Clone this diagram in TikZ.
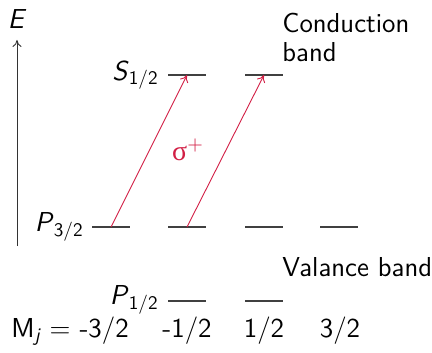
\documentclass[tikz,border=0pt]{standalone}
\usepackage{amsmath}
\usepackage{fontspec}
\newfontfamily\greekserif{Liberation Serif}
\usetikzlibrary{arrows.meta}
\newcommand\lvlname[2]{\textit{#1}$_{\textsf{#2}}$}
\definecolor{trred}{HTML}{D21F45}
\definecolor{lvlgray}{HTML}{404040}
\begin{document}
\begin{tikzpicture}[x=0.5pt,y=-0.5pt,
  txt/.style={font=\sffamily\fontsize{13.7}{16}\selectfont,inner sep=0pt},
  lvl/.style={draw=lvlgray,line width=0.6pt},
  trans/.style={draw=trred,line width=0.45pt,-{To[length=3.5pt,width=4.5pt]}},
  axis/.style={draw=black!80,line width=0.45pt,-{To[length=3.5pt,width=4.5pt]}}]
\useasboundingbox (0,0) rectangle (432,352);
% axis
\coordinate (axb) at (17,246);
\coordinate (axt) at (17,40);
\draw[axis] (axb) -- (axt);
\node[txt] (E) at (17,19) {\textit{E}};
% level centres
\coordinate (s1) at (187,75);
\coordinate (s2) at (264,75);
\coordinate (p1) at (111,227);
\coordinate (p2) at (187,227);
\coordinate (p3) at (264,227);
\coordinate (p4) at (339,227);
\coordinate (q2) at (187,301);
\coordinate (q3) at (264,301);
\foreach \c in {s1,s2,p1,p2,p3,p4,q2,q3}
  \draw[lvl] ([xshift=-19*0.5pt]\c) -- ([xshift=19*0.5pt]\c);
% labels
\node[txt,anchor=east] (S) at (159,75) {\lvlname{S}{1/2}};
\node[txt,anchor=east] (P3) at (84,227) {\lvlname{P}{3/2}};
\node[txt,anchor=east] (P1) at (159,300) {\lvlname{P}{1/2}};
\node[txt,anchor=west,align=left] (cb) at (282,37) {Conduction\\[-1.5pt]band};
\node[txt,anchor=west] (vb) at (282,267) {Valance band};
% transitions
\draw[trans] (p1) -- (s1);
\draw[trans] (p2) -- (s2);
\node[text=trred,inner sep=0pt,font=\greekserif\fontsize{14}{16}\selectfont] (sig) at (188,150) {σ$^{+}$};
% Mj row
\node[txt,anchor=west] (mj) at (11,331) {M$_{\textit{j}}$ = -3/2};
\node[txt] (m2) at (187,331) {-1/2};
\node[txt] (m3) at (264,331) {1/2};
\node[txt] (m4) at (340,331) {3/2};
\end{tikzpicture}
\end{document}
